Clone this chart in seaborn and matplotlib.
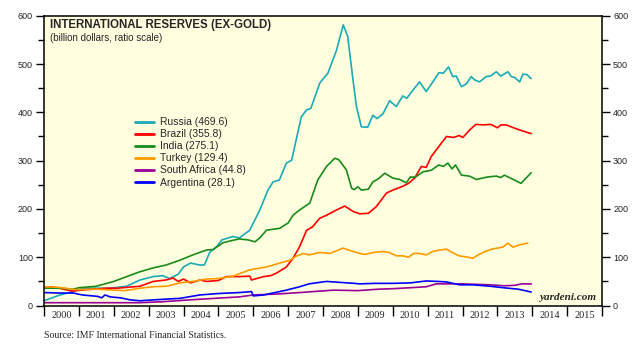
import matplotlib
matplotlib.use("Agg")
import matplotlib.pyplot as plt
import seaborn as sns
import pandas as pd
import numpy as np
from matplotlib.ticker import MultipleLocator, FixedLocator, NullFormatter, FixedFormatter

# ---------------- data (billion dollars) ----------------
russia_t = [2000.0, 2000.46, 2000.84, 2001.13, 2001.6, 2001.9, 2002.37, 2002.75, 2003.13, 2003.4, 2003.6,
            2003.85, 2004.0, 2004.2, 2004.47, 2004.6, 2004.75, 2004.95, 2005.1, 2005.42, 2005.6, 2005.9,
            2006.19, 2006.42, 2006.57, 2006.75, 2006.95, 2007.1, 2007.38, 2007.53, 2007.65, 2007.91,
            2008.14, 2008.39, 2008.58, 2008.71, 2008.86, 2008.96, 2009.1, 2009.28, 2009.43, 2009.55,
            2009.72, 2009.91, 2010.1, 2010.29, 2010.4, 2010.58, 2010.77, 2010.96, 2011.15, 2011.32,
            2011.45, 2011.6, 2011.72, 2011.82, 2011.97, 2012.11, 2012.25, 2012.35, 2012.49, 2012.68,
            2012.8, 2012.97, 2013.1, 2013.3, 2013.4, 2013.5, 2013.64, 2013.73, 2013.85, 2013.97]
russia_v = [10, 22, 29, 36, 36, 36, 40, 53, 60, 62, 56,
            65, 80, 88, 84, 84, 110, 122, 136, 143, 140, 156,
            198, 239, 256, 260, 295, 301, 391, 405, 408, 461,
            481, 529, 581, 557, 467, 412, 370, 369, 394, 387,
            397, 424, 412, 434, 429, 446, 463, 443, 463, 482,
            481, 494, 474, 475, 453, 459, 474, 467, 463, 474,
            475, 484, 475, 484, 474, 472, 463, 479, 478, 469.6]

brazil_t = [2000.0, 2000.2, 2000.5, 2000.8, 2001.2, 2001.8, 2002.1, 2002.4, 2002.75, 2003.13, 2003.5,
            2003.7, 2003.85, 2004.0, 2004.2, 2004.47, 2004.66, 2005.0, 2005.23, 2005.6, 2005.9, 2005.95,
            2006.1, 2006.3, 2006.5, 2006.66, 2006.95, 2007.14, 2007.33, 2007.53, 2007.7, 2007.91, 2008.1,
            2008.39, 2008.62, 2008.86, 2009.05, 2009.3, 2009.53, 2009.82, 2010.0, 2010.29, 2010.45,
            2010.63, 2010.82, 2010.96, 2011.1, 2011.35, 2011.54, 2011.75, 2011.9, 2012.01, 2012.2,
            2012.38, 2012.6, 2012.8, 2012.9, 2013.0, 2013.1, 2013.25, 2013.5, 2013.7, 2013.97]
brazil_v = [36, 39, 35, 30, 33, 36, 36, 38, 40, 50, 53,
            57, 50, 55, 47, 53, 50, 52, 60, 60, 61, 53,
            56, 60, 62, 67, 80, 98, 122, 156, 163, 181, 187,
            198, 206, 195, 190, 191, 205, 233, 239, 247, 253,
            264, 288, 286, 308, 332, 350, 348, 352, 348, 363,
            375, 374, 375, 372, 368, 374, 374, 367, 362, 355.8]

india_t = [2000.0, 2000.46, 2000.84, 2001.0, 2001.5, 2002.0, 2002.37, 2002.75, 2003.13, 2003.5, 2003.9,
           2004.27, 2004.66, 2004.85, 2005.13, 2005.35, 2005.6, 2005.85, 2006.05, 2006.2, 2006.38,
           2006.76, 2007.0, 2007.14, 2007.33, 2007.62, 2007.85, 2008.1, 2008.34, 2008.45, 2008.67,
           2008.82, 2008.9, 2009.0, 2009.1, 2009.3, 2009.43, 2009.6, 2009.77, 2010.0, 2010.2, 2010.39,
           2010.5, 2010.65, 2010.87, 2011.1, 2011.32, 2011.45, 2011.58, 2011.7, 2011.8, 2011.97, 2012.2,
           2012.4, 2012.7, 2012.97, 2013.1, 2013.2, 2013.4, 2013.68, 2013.97]
india_v = [36, 36, 34, 37, 40, 50, 60, 70, 78, 84, 94,
           105, 115, 116, 130, 134, 138, 136, 132, 141, 156,
           160, 171, 187, 198, 212, 260, 288, 305, 302, 281,
           243, 240, 246, 239, 241, 256, 263, 274, 264, 261, 254,
           266, 266, 277, 280, 291, 288, 295, 283, 291, 270, 268,
           261, 266, 268, 265, 270, 263, 253, 275.1]

turkey_t = [2000.0, 2000.4, 2000.9, 2001.5, 2002.3, 2002.5, 2002.75, 2003.13, 2003.5, 2003.9, 2004.27,
            2004.66, 2005.0, 2005.42, 2005.9, 2006.38, 2006.76, 2007.05, 2007.2, 2007.43, 2007.6,
            2007.91, 2008.2, 2008.58, 2008.86, 2009.05, 2009.2, 2009.45, 2009.72, 2009.9, 2010.1,
            2010.3, 2010.45, 2010.6, 2010.75, 2010.96, 2011.15, 2011.35, 2011.54, 2011.7, 2011.9,
            2012.1, 2012.3, 2012.45, 2012.65, 2012.85, 2013.0, 2013.15, 2013.3, 2013.45, 2013.65, 2013.87]
turkey_v = [39, 38, 33, 34, 31, 33, 36, 39, 40, 47, 50,
            55, 56, 61, 74, 80, 88, 94, 101, 108, 105,
            110, 108, 119, 112, 108, 106, 110, 112, 110, 103,
            103, 100, 108, 108, 105, 112, 115, 117, 110, 103,
            101, 98, 105, 112, 117, 119, 121, 129, 121, 126, 129.4]

safrica_t = [2000.0, 2001.0, 2002.0, 2002.75, 2003.4, 2004.0, 2004.66, 2005.6, 2006.0, 2006.7, 2007.33,
             2008.3, 2009.0, 2009.6, 2010.0, 2010.5, 2010.96, 2011.25, 2011.6, 2012.0, 2012.4, 2012.8,
             2013.2, 2013.5, 2013.7, 2013.97]
safrica_v = [6, 6, 6, 6, 8, 11, 14, 18, 22, 24, 27,
             32, 31, 34, 35, 37, 39, 45, 45, 45, 44, 43,
             41, 42, 45, 44.8]

argentina_t = [2000.0, 2000.46, 2000.84, 2001.1, 2001.4, 2001.55, 2001.65, 2001.75, 2001.9, 2002.2, 2002.46,
               2002.75, 2003.4, 2003.9, 2004.47, 2005.0, 2005.6, 2005.95, 2006.0, 2006.3, 2006.95, 2007.33,
               2007.6, 2008.1, 2008.5, 2008.9, 2009.05, 2009.5, 2010.0, 2010.5, 2010.96, 2011.3, 2011.54,
               2011.92, 2012.3, 2012.8, 2013.3, 2013.6, 2013.97]
argentina_v = [27, 26, 26, 22, 20, 19, 16, 22, 18, 16, 12,
               10, 13, 15, 22, 25, 27, 29, 20, 22, 32, 39,
               45, 50, 48, 46, 45, 46, 46, 47, 51, 50, 49,
               43, 43, 40, 36, 34, 28.1]

series_names = ["Russia (469.6)", "Brazil (355.8)", "India (275.1)", "Turkey (129.4)",
                "South Africa (44.8)", "Argentina (28.1)"]
series_colors = ["#1AAAB8", "#FF0000", "#1A8A1A", "#FF9A00", "#990099", "#0000FF"]
year_labels = [str(y) for y in range(2000, 2016)]

title = "INTERNATIONAL RESERVES (EX-GOLD)"
subtitle = "(billion dollars, ratio scale)"
source = "Source: IMF International Financial Statistics."
brand = "yardeni.com"

# ---------------- build table ----------------
frames = []
for name, t, v in zip(series_names,
                      [russia_t, brazil_t, india_t, turkey_t, safrica_t, argentina_t],
                      [russia_v, brazil_v, india_v, turkey_v, safrica_v, argentina_v]):
    frames.append(pd.DataFrame({"date": t, "value": v, "series": name}))
df = pd.concat(frames, ignore_index=True)

sns.set_style("ticks")
plt.rcParams["font.family"] = ["Liberation Sans", "DejaVu Sans"]

fig = plt.figure(figsize=(6.37, 3.53), dpi=100)
ax = fig.add_axes([44 / 637, 1 - 305.6 / 353, 558 / 637, 289.9 / 353])
ax.set_facecolor("#FFFFE0")

sns.lineplot(data=df, x="date", y="value", hue="series", hue_order=series_names,
             palette=series_colors, estimator=None, sort=False, linewidth=1.2, ax=ax)

ax.set_xlim(2000, 2016)
ax.set_ylim(0, 600)
ax.set_xlabel("")
ax.set_ylabel("")

# x ticks: marks at year boundaries, labels centred in each year
ax.xaxis.set_major_locator(FixedLocator(np.arange(2000, 2017)))
ax.xaxis.set_major_formatter(NullFormatter())
ax.xaxis.set_minor_locator(FixedLocator(np.arange(2000, 2016) + 0.5))
ax.xaxis.set_minor_formatter(FixedFormatter(year_labels))
ax.tick_params(axis="x", which="major", direction="out", length=7, width=1, color="black")
ax.tick_params(axis="x", which="minor", length=0, pad=4, labelsize=7.5)
for lab in ax.get_xticklabels(minor=True):
    lab.set_fontfamily("Liberation Serif")

ax.yaxis.set_major_locator(MultipleLocator(100))
ax.yaxis.set_minor_locator(MultipleLocator(50))
ax.tick_params(axis="y", which="both", direction="out", left=True, right=True,
               labelleft=True, labelright=True, color="black", width=1)
ax.tick_params(axis="y", which="major", length=6, labelsize=6.5, pad=2)
ax.tick_params(axis="y", which="minor", length=4)
for sp in ax.spines.values():
    sp.set_visible(True)
    sp.set_color("black")
    sp.set_linewidth(1.1)

# legend
leg = ax.legend(loc="upper left", bbox_to_anchor=(0.163, 0.65), frameon=False,
                fontsize=7.5, handlelength=1.85, handletextpad=0.6, labelspacing=0.2,
                borderpad=0, borderaxespad=0)
for line in leg.get_lines():
    line.set_linewidth(2.0)

# texts
fig.text(50 / 637, 1 - 25 / 353, title, fontsize=8.3, fontweight="bold", va="center", ha="left")
fig.text(50 / 637, 1 - 38 / 353, subtitle, fontsize=7, va="center", ha="left")
fig.text(44 / 637, 1 - 335 / 353, source, fontsize=7, va="center", ha="left",
         family="Liberation Serif")
fig.text(596 / 637, 1 - 298 / 353, brand, fontsize=8, va="center", ha="right",
         family="Liberation Serif", fontweight="bold", style="italic")

fig.savefig("out.png", dpi=100, facecolor="white")
